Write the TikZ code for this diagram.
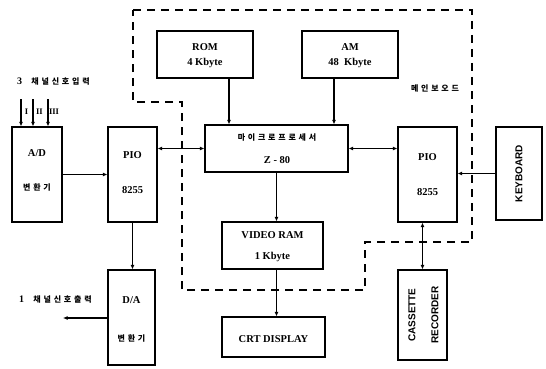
\documentclass[tikz,border=0pt]{standalone}
\usepackage{fontspec}
\setmainfont{Liberation Serif}
\newfontfamily\krfont{Noto Sans CJK KR}
\newfontfamily\sansfont{Liberation Sans}
\usetikzlibrary{arrows.meta}
\begin{document}
\begin{tikzpicture}[x=1pt,y=-1pt,
  box/.style={draw,line width=1.1pt,inner sep=0pt},
  lbl/.style={inner sep=0pt,font=\fontsize{10.5}{12}\selectfont\bfseries},
  slbl/.style={inner sep=0pt,rotate=90,font=\sansfont\fontsize{10}{12}\selectfont\bfseries},
  kr/.style={inner sep=0pt,font=\krfont\bfseries\fontsize{8}{10}\selectfont\addfontfeature{LetterSpace=35}},
  rn/.style={inner sep=0pt,font=\fontsize{8.5}{9}\selectfont\bfseries},
  conn/.style={line width=1.1pt},
  arr/.style={conn,-{Latex[length=4.5pt,width=4pt]}},
  darr/.style={conn,{Latex[length=4.5pt,width=4pt]}-{Latex[length=4.5pt,width=4pt]}},
  board/.style={line width=1.1pt,dash pattern=on 8pt off 6pt}
]
\path[use as bounding box] (0,0) rectangle (546,369);
% main board outline
\draw[board] (133,10) -- (472,10) -- (472,242) -- (365,242) -- (365,290) -- (182,290) -- (182,102) -- (133,102) -- cycle;
% boxes
\node[box,minimum width=96pt,minimum height=47pt] (rom) at (205,54.5) {};
\node[box,minimum width=96pt,minimum height=47pt] (am) at (350,54.5) {};
\node[box,minimum width=143pt,minimum height=47pt] (cpu) at (276.5,148.5) {};
\node[box,minimum width=49pt,minimum height=95pt] (pioL) at (132.5,174.5) {};
\node[box,minimum width=50pt,minimum height=95pt] (ad) at (37,174.5) {};
\node[box,minimum width=47pt,minimum height=95pt] (da) at (131.5,317.5) {};
\node[box,minimum width=101pt,minimum height=47pt] (vram) at (272.5,245.5) {};
\node[box,minimum width=103pt,minimum height=40pt] (crt) at (273.5,337) {};
\node[box,minimum width=59pt,minimum height=95pt] (pioR) at (427.5,174.5) {};
\node[box,minimum width=46pt,minimum height=93pt] (kbd) at (519,173.5) {};
\node[box,minimum width=49pt,minimum height=90pt] (cas) at (422.5,315) {};
% box texts
\node[lbl] (romA) at (205,47) {ROM};
\node[lbl] (romB) at (205,63) {4 Kbyte};
\node[lbl] (amA) at (350,47) {AM};
\node[lbl] (amB) at (350,63) {48~~Kbyte};
\node[kr] (cpuA) at (277,138) {마이크로프로세서};
\node[lbl] (cpuB) at (277,160) {Z - 80};
\node[lbl] (pioLA) at (132.5,155) {PIO};
\node[lbl] (pioLB) at (132.5,190) {8255};
\node[lbl] (adA) at (37,153) {A/D};
\node[kr] (adB) at (37,187) {변환기};
\node[lbl] (daA) at (131.5,300) {D/A};
\node[kr] (daB) at (131.5,338) {변환기};
\node[lbl] (vramA) at (272.5,235) {VIDEO RAM};
\node[lbl] (vramB) at (272.5,257) {1 Kbyte};
\node[lbl] (crtA) at (273.5,339) {CRT DISPLAY};
\node[lbl] (pioRA) at (427.5,157) {PIO};
\node[lbl] (pioRB) at (427.5,192) {8255};
\node[slbl] (kbdA) at (519,173.5) {KEYBOARD};
\node[slbl] (casA) at (412,315) {CASSETTE};
\node[slbl] (casB) at (435,315) {RECORDER};
% free labels
\node[kr,anchor=west] (inlbl) at (17,82) {{\rmfamily\fontsize{10}{12}\selectfont 3}\ \ 채널신호입력};
\node[kr,anchor=west] (outlbl) at (19,300) {{\rmfamily\fontsize{10}{12}\selectfont 1}\ \ 채널신호출력};
\node[kr] (boardlbl) at (435,88) {메인보오드};
\node[rn] (r1) at (26.5,112) {I};
\node[rn] (r2) at (39.5,112) {II};
\node[rn] (r3) at (54,112) {III};
% connectors
\coordinate (i1) at (21,99);
\coordinate (i2) at (33,99);
\coordinate (i3) at (48,99);
\coordinate (out) at (63,318);
\draw[arr] (i1) -- (i1 |- ad.north);
\draw[arr] (i2) -- (i2 |- ad.north);
\draw[arr] (i3) -- (i3 |- ad.north);
\draw[arr] ([xshift=24pt]rom.south) -- ([xshift=24pt]rom.south |- cpu.north);
\draw[arr] ([xshift=-16pt]am.south) -- ([xshift=-16pt]am.south |- cpu.north);
\draw[darr] (pioL.east |- cpu.west) -- (cpu.west);
\draw[darr] (cpu.east) -- (cpu.east -| pioR.west);
\draw[arr] (ad.east) -- (ad.east -| pioL.west);
\draw[arr] (pioL.south) -- (pioL.south |- da.north);
\draw[arr] (da.west |- out) -- (out);
\draw[arr] (cpu.south) -- (cpu.south |- vram.north);
\draw[arr] (cpu.south |- vram.south) -- (cpu.south |- crt.north);
\draw[arr] (kbd.west) -- (kbd.west -| pioR.east);
\draw[darr] (cas.north |- pioR.south) -- (cas.north);
\end{tikzpicture}
\end{document}
